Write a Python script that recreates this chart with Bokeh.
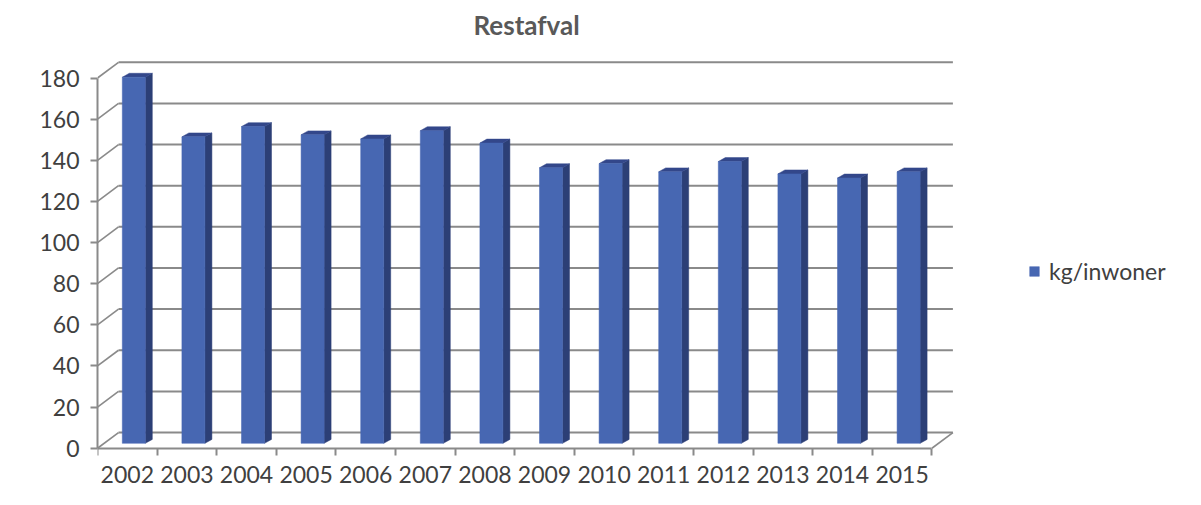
from bokeh.plotting import figure
from bokeh.models import Range1d, FixedTicker, Legend, LegendItem
from bokeh.embed import file_html
from bokeh.resources import INLINE

# ---- data ----
title_text = "Restafval"
series_name = "kg/inwoner"
years = ["2002", "2003", "2004", "2005", "2006", "2007", "2008",
         "2009", "2010", "2011", "2012", "2013", "2014", "2015"]
values = [178, 149, 154, 150, 148, 152, 146, 134, 136, 132, 137, 131, 129, 132]
y_ticks = [0, 20, 40, 60, 80, 100, 120, 140, 160, 180]

# ---- geometry (screen px -> data units) ----
W, H = 1185, 489
LEFT, TOP = 97, 38          # frame offset inside canvas
ZERO_Y = 447                # canvas y of value 0 (front plane)
PX_X = 59.6
PX_Y = 2.094
FRAME_W = W - LEFT
FRAME_H = H - TOP
wall_dx = 21 / PX_X
wall_dy = 16 / PX_Y
bar_fx = 6.5 / PX_X
bar_fy = 5 / PX_Y
bar_w = 23 / PX_X
side_dx = 7 / PX_X
side_dy = 4 / PX_Y

n = len(years)
xs = list(range(n))
x_lo, x_hi = -0.5, n - 0.5
y_max = y_ticks[-1]
y_start = -(H - ZERO_Y) / PX_Y
y_end = y_start + FRAME_H / PX_Y

GRID = "#8a8a8a"
TXT = "#404040"
FONT = "Lato"

p = figure(width=W, height=H,
           x_range=Range1d(x_lo, x_lo + FRAME_W / PX_X),
           y_range=Range1d(y_start, y_end),
           output_backend="svg", toolbar_location=None,
           min_border_left=LEFT, min_border_right=0,
           min_border_top=TOP, min_border_bottom=0)
p.outline_line_color = None
p.xgrid.visible = False
p.ygrid.visible = False
p.background_fill_color = "white"

# title
p.title.text = title_text
p.title.align = "left"
p.title.offset = 376
p.title.text_font = FONT
p.title.text_font_size = "26px"
p.title.text_font_style = "bold"
p.title.text_color = "#595959"
p.title.standoff = 12

# back wall gridlines
p.segment(x0=[x_lo + wall_dx] * len(y_ticks), y0=[v + wall_dy for v in y_ticks],
          x1=[x_hi + wall_dx] * len(y_ticks), y1=[v + wall_dy for v in y_ticks],
          line_color=GRID, line_width=2)
# left wall diagonals
p.segment(x0=[x_lo] * len(y_ticks), y0=y_ticks,
          x1=[x_lo + wall_dx] * len(y_ticks), y1=[v + wall_dy for v in y_ticks],
          line_color=GRID, line_width=1.6)
# floor right edge
p.segment(x0=[x_hi], y0=[0], x1=[x_hi + wall_dx], y1=[wall_dy],
          line_color=GRID, line_width=1.6)

# bars
lefts = [x + bar_fx - bar_w / 2 for x in xs]
rights = [x + bar_fx + bar_w / 2 for x in xs]
bottom = bar_fy
tops = [v + bar_fy for v in values]

side_x = [[r, r + side_dx, r + side_dx, r] for r in rights]
side_y = [[bottom, bottom + side_dy, t + side_dy, t] for t in tops]
p.patches(side_x, side_y, fill_color="#2c3f76", line_color="#2c3f76", line_width=0.5)

top_x = [[l, l + side_dx, r + side_dx, r] for l, r in zip(lefts, rights)]
top_y = [[t, t + side_dy, t + side_dy, t] for t in tops]
p.patches(top_x, top_y, fill_color="#33478a", line_color="#33478a", line_width=0.5)

front = p.vbar(x=[x + bar_fx for x in xs], width=bar_w, top=tops, bottom=bottom,
               fill_color="#4767b2", line_color="#4767b2", line_width=0.5)

# y axis
ya = p.yaxis[0]
ya.ticker = FixedTicker(ticks=y_ticks)
ya.bounds = (0, y_max)
ya.axis_line_color = GRID
ya.axis_line_width = 2
ya.major_tick_line_color = GRID
ya.major_tick_line_width = 2
ya.major_tick_out = 7
ya.major_tick_in = 0
ya.minor_tick_line_color = None
ya.major_label_text_font = FONT
ya.major_label_text_font_size = "23px"
ya.major_label_text_color = TXT
ya.major_label_standoff = 11

# x axis, drawn at value 0 inside the frame
xa = p.xaxis[0]
xa.fixed_location = 0
xa.ticker = FixedTicker(ticks=xs, minor_ticks=[x - 0.5 for x in xs] + [x_hi])
xa.major_label_overrides = {x: y for x, y in zip(xs, years)}
xa.bounds = (x_lo, x_hi)
xa.axis_line_color = GRID
xa.axis_line_width = 2
xa.major_tick_line_color = None
xa.major_tick_out = 0
xa.major_tick_in = 0
xa.minor_tick_line_color = GRID
xa.minor_tick_line_width = 2
xa.minor_tick_out = 7
xa.minor_tick_in = 0
xa.major_label_text_font = FONT
xa.major_label_text_font_size = "23px"
xa.major_label_text_color = TXT
xa.major_label_standoff = 11

# legend
legend = Legend(items=[LegendItem(label=series_name, renderers=[front])],
                location=(931, H - 285), padding=0, margin=0, spacing=0,
                border_line_color=None, background_fill_alpha=0,
                glyph_width=12, glyph_height=12, label_height=24,
                label_standoff=9, label_text_font=FONT,
                label_text_font_size="23px", label_text_color=TXT)
p.add_layout(legend)

open("out.html", "w").write(file_html(p, INLINE))
